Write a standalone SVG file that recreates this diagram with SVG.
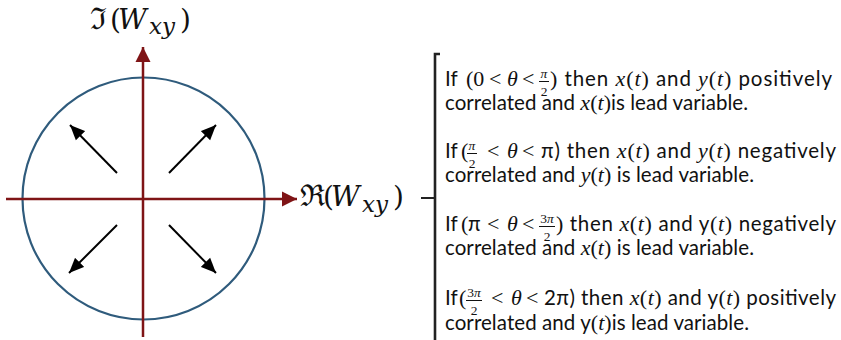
<svg xmlns="http://www.w3.org/2000/svg" width="841" height="340" viewBox="0 0 841 340">
<style>
.sans{font-family:Lato,"Liberation Sans",sans-serif;font-size:20.5px;fill:#111}
.mi{font-family:"Liberation Serif","DejaVu Serif",serif;font-style:italic;font-size:22px}
.mr{font-family:"Liberation Serif","DejaVu Serif",serif;font-style:normal;font-size:22px}
.fr{font-family:"Liberation Serif","DejaVu Serif",serif;font-size:13.5px;text-anchor:middle;fill:#111}
.fri{font-style:italic}
.bar{stroke:#111;stroke-width:1}
.lbl{font-family:"DejaVu Serif","Liberation Serif",serif;font-size:28px;fill:#111}
.lbli{font-style:italic}
.axis{stroke:#7f1416;stroke-width:2.5;fill:none}
.vec{stroke:#000;stroke-width:2}
.circ{fill:none;stroke:#2f5b7c;stroke-width:2.2}
</style>
<defs>
<marker id="ra" markerWidth="16" markerHeight="16" refX="15" refY="8" orient="auto" markerUnits="userSpaceOnUse"><path d="M0,0.5 L15,8 L0,15.5 Z" fill="#7f1416"/></marker>
<marker id="ka" markerWidth="16" markerHeight="14" refX="15" refY="7" orient="auto" markerUnits="userSpaceOnUse"><path d="M0,0.5 L15,7 L0,13.5 Z" fill="#000"/></marker>
</defs>
<g id="circle"><circle class="circ" cx="143.5" cy="198.5" r="121"/></g>
<g id="connectors">
<line class="axis" x1="6" y1="199" x2="297" y2="199" marker-end="url(#ra)"/>
<line class="axis" x1="143" y1="337" x2="143" y2="47" marker-end="url(#ra)"/>
<line class="vec" x1="117" y1="173" x2="70" y2="125" marker-end="url(#ka)"/>
<line class="vec" x1="169" y1="173" x2="216" y2="125" marker-end="url(#ka)"/>
<line class="vec" x1="117" y1="225" x2="69" y2="273" marker-end="url(#ka)"/>
<line class="vec" x1="169" y1="225" x2="216" y2="273" marker-end="url(#ka)"/>
</g>
<g id="label-im">
<text class="lbl" y="29"><tspan x="90" font-size="30">ℑ</tspan><tspan x="110">(</tspan><tspan x="118" class="lbli">W</tspan><tspan x="149" y="34" class="lbli" font-size="23">xy</tspan><tspan x="180" y="29">)</tspan></text>
</g>
<g id="label-re">
<text class="lbl" y="206"><tspan x="300" font-size="30">ℜ</tspan><tspan x="323">(</tspan><tspan x="331" class="lbli">W</tspan><tspan x="362" y="212" class="lbli" font-size="23">xy</tspan><tspan x="393" y="206">)</tspan></text>
</g>
<g id="bracket">
<path d="M435,340 V54 H440" fill="none" stroke="#222" stroke-width="2.6"/>
<line x1="421" y1="198" x2="435" y2="198" stroke="#222" stroke-width="2"/>
</g>
<g id="case1">
<text class="sans" y="86"><tspan x="445">If</tspan><tspan x="466" class="mr">(0</tspan><tspan x="489" class="mr">&lt;</tspan><tspan x="507" class="mi">θ</tspan><tspan x="522" class="mr">&lt;</tspan></text>
<text class="fr fri" x="544" y="78">π</text><line class="bar" x1="539" y1="81.5" x2="549" y2="81.5"/><text class="fr" x="544" y="96">2</text>
<text class="sans" x="550" y="86" textLength="282" lengthAdjust="spacing"><tspan class="mr">)</tspan> then <tspan class="mi">x</tspan><tspan class="mr">(</tspan><tspan class="mi">t</tspan><tspan class="mr">)</tspan> and <tspan class="mi">y</tspan><tspan class="mr">(</tspan><tspan class="mi">t</tspan><tspan class="mr">)</tspan> positively</text>
<text class="sans" x="445" y="110" textLength="303" lengthAdjust="spacing">correlated and <tspan class="mi">x</tspan><tspan class="mr">(</tspan><tspan class="mi">t</tspan><tspan class="mr">)</tspan>is lead variable.</text>
</g>
<g id="case2">
<text class="sans" y="158"><tspan x="445">If</tspan><tspan x="461" class="mr">(</tspan><tspan x="487" class="mr">&lt;</tspan><tspan x="507" class="mi">θ</tspan><tspan x="522" class="mr">&lt;</tspan></text>
<text class="fr fri" x="472" y="150">π</text><line class="bar" x1="467" y1="153.5" x2="477" y2="153.5"/><text class="fr" x="472" y="168">2</text>
<text class="sans" x="541" y="158" textLength="295" lengthAdjust="spacing">π) then <tspan class="mi">x</tspan><tspan class="mr">(</tspan><tspan class="mi">t</tspan><tspan class="mr">)</tspan> and <tspan class="mi">y</tspan><tspan class="mr">(</tspan><tspan class="mi">t</tspan><tspan class="mr">)</tspan> negatively</text>
<text class="sans" x="445" y="182" textLength="309" lengthAdjust="spacing">correlated and <tspan class="mi">y</tspan><tspan class="mr">(</tspan><tspan class="mi">t</tspan><tspan class="mr">)</tspan> is lead variable.</text>
</g>
<g id="case3">
<text class="sans" y="231"><tspan x="445">If</tspan><tspan x="461" class="mr">(</tspan><tspan x="468">π</tspan><tspan x="487" class="mr">&lt;</tspan><tspan x="507" class="mi">θ</tspan><tspan x="522" class="mr">&lt;</tspan></text>
<text class="fr" x="547" y="223">3<tspan class="fri">π</tspan></text><line class="bar" x1="539" y1="226.5" x2="555" y2="226.5"/><text class="fr" x="547" y="241">2</text>
<text class="sans" x="556" y="231" textLength="280" lengthAdjust="spacing"><tspan class="mr">)</tspan> then <tspan class="mi">x</tspan><tspan class="mr">(</tspan><tspan class="mi">t</tspan><tspan class="mr">)</tspan> and y<tspan class="mr">(</tspan><tspan class="mi">t</tspan><tspan class="mr">)</tspan> negatively</text>
<text class="sans" x="445" y="255" textLength="309" lengthAdjust="spacing">correlated and <tspan class="mi">x</tspan><tspan class="mr">(</tspan><tspan class="mi">t</tspan><tspan class="mr">)</tspan> is lead variable.</text>
</g>
<g id="case4">
<text class="sans" y="305"><tspan x="445">If</tspan><tspan x="459" class="mr">(</tspan><tspan x="491" class="mr">&lt;</tspan><tspan x="511" class="mi">θ</tspan><tspan x="526" class="mr">&lt;</tspan></text>
<text class="fr" x="474" y="297">3<tspan class="fri">π</tspan></text><line class="bar" x1="466" y1="300.5" x2="482" y2="300.5"/><text class="fr" x="474" y="315">2</text>
<text class="sans" x="544" y="305" textLength="292" lengthAdjust="spacing">2π) then <tspan class="mi">x</tspan><tspan class="mr">(</tspan><tspan class="mi">t</tspan><tspan class="mr">)</tspan> and y<tspan class="mr">(</tspan><tspan class="mi">t</tspan><tspan class="mr">)</tspan> positively</text>
<text class="sans" x="445" y="330" textLength="304" lengthAdjust="spacing">correlated and y<tspan class="mr">(</tspan><tspan class="mi">t</tspan><tspan class="mr">)</tspan>is lead variable.</text>
</g>
</svg>
